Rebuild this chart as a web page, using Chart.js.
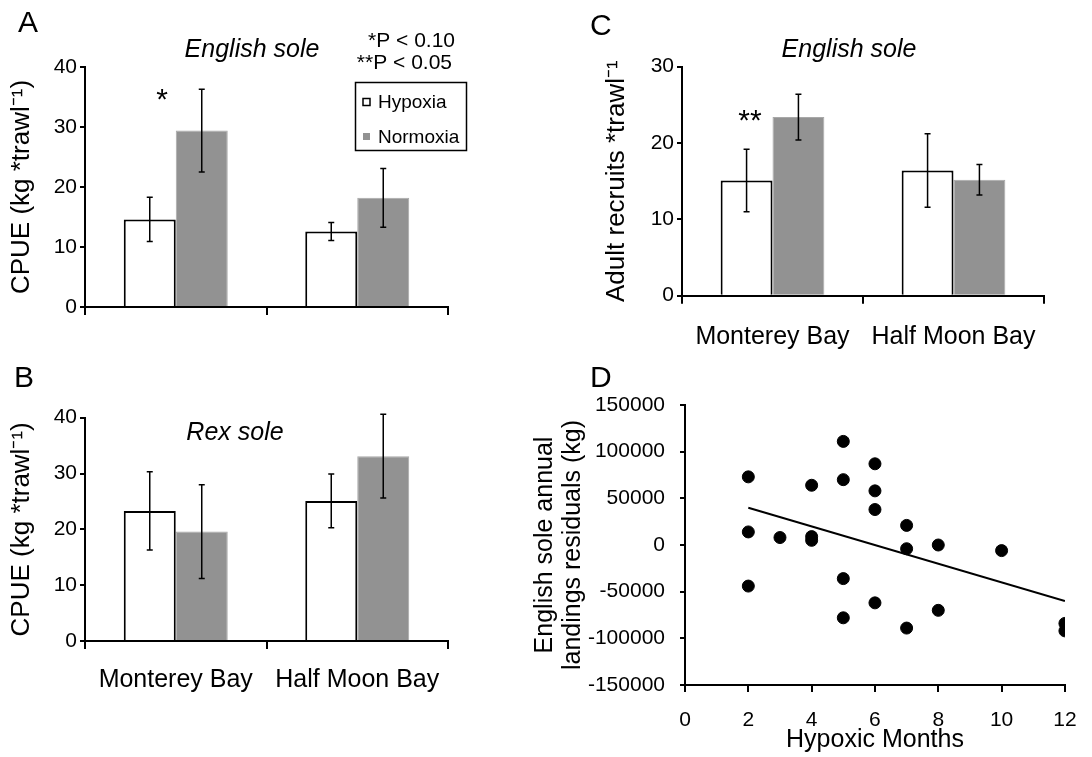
<!DOCTYPE html>
<html>
<head>
<meta charset="utf-8">
<script src="https://cdn.jsdelivr.net/npm/chart.js@4.4.1/dist/chart.umd.min.js"></script>
<style>
  body { margin: 0; background: #fff; }
  .wrap { position: relative; width: 1092px; height: 757px; }
  canvas { position: absolute; }
</style>
</head>
<body>
<div class="wrap">
  <canvas id="panelA" width="546" height="355" style="left:0;top:0"></canvas>
  <canvas id="panelB" width="546" height="402" style="left:0;top:355px"></canvas>
  <canvas id="panelC" width="546" height="355" style="left:546px;top:0"></canvas>
  <canvas id="panelD" width="576" height="402" style="left:516px;top:355px"></canvas>
</div>
<script>
const sites = ['Monterey Bay', 'Half Moon Bay'];
const seriesNames = ['Hypoxia', 'Normoxia'];

// A: English sole CPUE
const englishHypoxia = [14.6, 12.6];
const englishHypoxiaErr = [3.7, 1.5];
const englishNormoxia = [29.4, 18.2];
const englishNormoxiaErr = [6.9, 4.9];

// B: Rex sole CPUE
const rexHypoxia = [23.3, 25.1];
const rexHypoxiaErr = [7.0, 4.8];
const rexNormoxia = [19.6, 33.1];
const rexNormoxiaErr = [8.4, 7.5];

// C: English sole adult recruits
const recruitsHypoxia = [15.1, 16.4];
const recruitsHypoxiaErr = [4.1, 4.8];
const recruitsNormoxia = [23.4, 15.2];
const recruitsNormoxiaErr = [3.0, 2.0];

// D: landings residuals vs hypoxic months
const hypoxicMonths = [2, 2, 2, 3, 4, 4, 4, 5, 5, 5, 5, 6, 6, 6, 6, 7, 7, 7, 8, 8, 10, 12, 12];
const landingsResiduals = [73000, 14000, -44000, 8000, 64000, 9000, 5000, 111000, 70000, -36000, -78000,
  87000, 58000, 38000, -62000, 21000, -4000, -89000, 0, -70000, -6000, -84000, -92000];
const trendMonths = [2, 12];
const trendResiduals = [40000, -60000];

// tick labels
const cpueTicks = [0, 10, 20, 30, 40];
const recruitTicks = [0, 10, 20, 30];
const monthTicks = [0, 2, 4, 6, 8, 10, 12];
const residualTicks = [-150000, -100000, -50000, 0, 50000, 100000, 150000];

const FONT = "'Liberation Sans', Arial, Helvetica, sans-serif";
Chart.defaults.font.family = FONT;
Chart.defaults.color = '#000';
Chart.defaults.animation = false;

const errorBars = {
  id: 'errorBars',
  afterDatasetsDraw(chart) {
    const ctx = chart.ctx;
    const y = chart.scales.y;
    ctx.save();
    ctx.strokeStyle = '#000';
    ctx.lineWidth = 1.5;
    chart.data.datasets.forEach((ds, i) => {
      if (!ds.errors) return;
      chart.getDatasetMeta(i).data.forEach((bar, j) => {
        const top = y.getPixelForValue(ds.data[j] + ds.errors[j]);
        const bot = y.getPixelForValue(ds.data[j] - ds.errors[j]);
        ctx.beginPath();
        ctx.moveTo(bar.x, top); ctx.lineTo(bar.x, bot);
        ctx.moveTo(bar.x - 3, top); ctx.lineTo(bar.x + 3, top);
        ctx.moveTo(bar.x - 3, bot); ctx.lineTo(bar.x + 3, bot);
        ctx.stroke();
      });
    });
    ctx.restore();
  }
};

function notes(items) {
  return {
    id: 'notes',
    afterDraw(chart) {
      const ctx = chart.ctx;
      ctx.save();
      ctx.fillStyle = '#000';
      items.forEach(t => {
        ctx.font = t.font + ' ' + FONT;
        ctx.textAlign = t.align || 'center';
        ctx.textBaseline = t.baseline || 'middle';
        ctx.fillText(t.text, t.x, t.y);
      });
      ctx.restore();
    }
  };
}

// boxed legend of panel A
const boxLegend = {
  id: 'boxLegend',
  afterDraw(chart) {
    const ctx = chart.ctx;
    ctx.save();
    ctx.lineWidth = 1.5;
    ctx.strokeStyle = '#000';
    ctx.strokeRect(355.5, 82.5, 111, 68);
    ctx.font = '19px ' + FONT;
    ctx.textAlign = 'left';
    ctx.textBaseline = 'middle';
    chart.data.datasets.forEach((ds, i) => {
      const cy = 102 + i * 34.5;
      ctx.fillStyle = ds.backgroundColor;
      ctx.fillRect(363, cy - 3.5, 7, 7);
      if (i === 0) ctx.strokeRect(363, cy - 3.5, 7, 7);
      ctx.fillStyle = '#000';
      ctx.fillText(ds.label, 378, cy + 1);
    });
    ctx.restore();
  }
};

function barPanel(id, o) {
  const cv = document.getElementById(id);
  const W = cv.width, H = cv.height;
  const xH = o.labels ? 60 : 10;
  return new Chart(cv, {
    type: 'bar',
    data: {
      labels: sites,
      datasets: [
        { label: seriesNames[0], data: o.hyp, errors: o.hypErr, backgroundColor: '#ffffff', borderColor: '#000', borderWidth: 2 },
        { label: seriesNames[1], data: o.nor, errors: o.norErr, backgroundColor: '#929292', borderColor: '#a8a8a8', borderWidth: 1 }
      ]
    },
    options: {
      responsive: false,
      events: [],
      layout: { padding: { left: 0, top: o.area.top, right: W - o.area.right, bottom: H - o.area.bottom - xH } },
      datasets: { bar: { categoryPercentage: 0.573, barPercentage: 1, borderSkipped: 'start' } },
      plugins: { legend: { display: false }, tooltip: { enabled: false } },
      scales: {
        x: {
          grid: { drawOnChartArea: false, tickLength: 8, color: '#000', lineWidth: 2 },
          border: { color: '#000', width: 2 },
          ticks: { display: !!o.labels, padding: o.labelPad || 0, font: { size: 25 }, color: '#000' },
          afterFit: s => { s.height = xH; }
        },
        y: {
          min: o.ticks[0],
          max: o.ticks[o.ticks.length - 1],
          afterBuildTicks: s => { s.ticks = o.ticks.map(v => ({ value: v })); },
          grid: { drawOnChartArea: false, tickLength: 5, color: '#000', lineWidth: 2 },
          border: { color: '#000', width: 2 },
          ticks: { padding: 3, font: { size: 21 }, color: '#000' },
          title: { display: true, text: o.yTitle, font: { size: 26 }, padding: { top: o.titlePad, bottom: 0 }, color: '#000' },
          afterFit: s => { s.width = o.area.left; }
        }
      }
    },
    plugins: [errorBars, notes(o.notes)].concat(o.extra || [])
  });
}

barPanel('panelA', {
  hyp: englishHypoxia, hypErr: englishHypoxiaErr, nor: englishNormoxia, norErr: englishNormoxiaErr,
  ticks: cpueTicks, yTitle: 'CPUE (kg *trawl\u207B\u00B9)', titlePad: 6.4,
  area: { left: 85, right: 448, top: 67, bottom: 307 },
  labels: false,
  notes: [
    { text: 'A', x: 18, y: 32, font: '30px', align: 'left', baseline: 'alphabetic' },
    { text: 'English sole', x: 252, y: 50, font: 'italic 25px' },
    { text: '*P < 0.10', x: 455, y: 41, font: '21px', align: 'right' },
    { text: '**P < 0.05', x: 452, y: 63, font: '21px', align: 'right' },
    { text: '*', x: 162, y: 108.5, font: '30px', baseline: 'alphabetic' }
  ],
  extra: [boxLegend]
});

barPanel('panelB', {
  hyp: rexHypoxia, hypErr: rexHypoxiaErr, nor: rexNormoxia, norErr: rexNormoxiaErr,
  ticks: cpueTicks, yTitle: 'CPUE (kg *trawl\u207B\u00B9)', titlePad: 6.4,
  area: { left: 85, right: 448, top: 62.7, bottom: 286 },
  labels: true, labelPad: 16,
  notes: [
    { text: 'B', x: 14, y: 32, font: '30px', align: 'left', baseline: 'alphabetic' },
    { text: 'Rex sole', x: 235, y: 78, font: 'italic 25px' }
  ]
});

barPanel('panelC', {
  hyp: recruitsHypoxia, hypErr: recruitsHypoxiaErr, nor: recruitsNormoxia, norErr: recruitsNormoxiaErr,
  ticks: recruitTicks, yTitle: 'Adult recruits *trawl\u207B\u00B9', titlePad: 55.4,
  area: { left: 136, right: 498, top: 66.7, bottom: 295.7 },
  labels: true, labelPad: 18.3,
  notes: [
    { text: 'C', x: 44, y: 35, font: '30px', align: 'left', baseline: 'alphabetic' },
    { text: 'English sole', x: 303, y: 50, font: 'italic 25px' },
    { text: '**', x: 204, y: 129.5, font: '30px', baseline: 'alphabetic' }
  ]
});

// panel D canvas starts at page x 516
new Chart(document.getElementById('panelD'), {
  type: 'scatter',
  data: {
    datasets: [
      {
        type: 'line',
        data: trendMonths.map((m, i) => ({ x: m, y: trendResiduals[i] })),
        borderColor: '#000', borderWidth: 2, pointRadius: 0, fill: false
      },
      {
        data: hypoxicMonths.map((m, i) => ({ x: m, y: landingsResiduals[i] })),
        backgroundColor: '#000', borderColor: '#000', pointRadius: 6
      }
    ]
  },
  options: {
    responsive: false,
    events: [],
    layout: { padding: { left: 0, top: 50, right: 18, bottom: 0 } },
    plugins: { legend: { display: false }, tooltip: { enabled: false } },
    scales: {
      x: {
        type: 'linear',
        min: monthTicks[0],
        max: monthTicks[monthTicks.length - 1],
        afterBuildTicks: s => { s.ticks = monthTicks.map(v => ({ value: v })); },
        grid: { drawOnChartArea: false, tickLength: 7, color: '#000', lineWidth: 2 },
        border: { color: '#000', width: 2 },
        ticks: { padding: 15.4, font: { size: 21 }, color: '#000' },
        title: { display: true, text: 'Hypoxic Months', font: { size: 25 }, padding: { top: 0, bottom: 2 }, color: '#000' },
        afterFit: s => { s.height = 72; }
      },
      y: {
        min: residualTicks[0],
        max: residualTicks[residualTicks.length - 1],
        afterBuildTicks: s => { s.ticks = residualTicks.map(v => ({ value: v })); },
        grid: { drawOnChartArea: false, tickLength: 5, color: '#000', lineWidth: 2 },
        border: { color: '#000', width: 2 },
        ticks: { padding: 15, font: { size: 21 }, color: '#000', callback: v => String(v) },
        title: {
          display: true, text: ['English sole annual', 'landings residuals (kg)'],
          font: { size: 25, lineHeight: 1.12 }, padding: { top: 15, bottom: 0 }, color: '#000'
        },
        afterFit: s => { s.width = 169; }
      }
    }
  },
  plugins: [notes([{ text: 'D', x: 74, y: 32, font: '30px', align: 'left', baseline: 'alphabetic' }])]
});
</script>
</body>
</html>
